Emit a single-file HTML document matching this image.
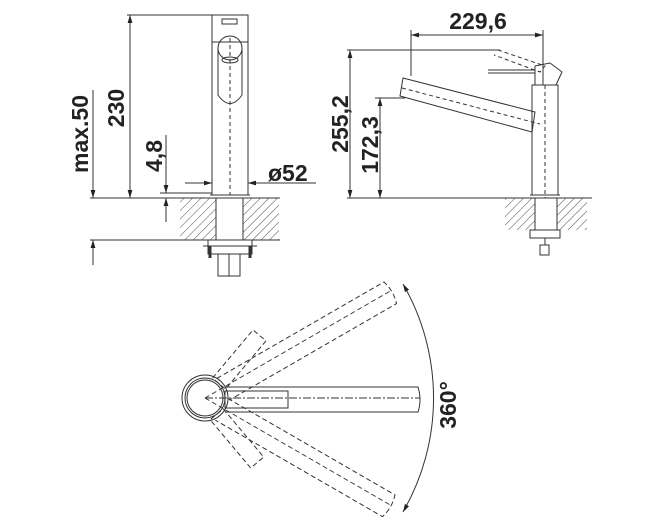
<!DOCTYPE html>
<html><head><meta charset="utf-8"><style>
html,body{margin:0;padding:0;background:#fff;}
svg{display:block}
text{font-family:"Liberation Sans",Arial,sans-serif;font-weight:bold;fill:#222;font-size:23px}
</style></head><body>
<svg width="648" height="530" viewBox="0 0 648 530" xmlns="http://www.w3.org/2000/svg">
<defs>
<pattern id="h" width="6" height="6" patternUnits="userSpaceOnUse" patternTransform="rotate(45)">
<line x1="0" y1="0" x2="0" y2="6" stroke="#555" stroke-width="1"/>
</pattern>
<marker id="a" viewBox="0 0 10 10" refX="10" refY="5" markerWidth="8" markerHeight="8" orient="auto-start-reverse" markerUnits="userSpaceOnUse">
<path d="M0,2 L10,5 L0,8 z" fill="#222"/>
</marker>
</defs>
<g stroke="#333" stroke-width="1" fill="none">
<rect x="180" y="198" width="36" height="42" fill="url(#h)" stroke="none"/>
<rect x="243" y="198" width="36" height="42" fill="url(#h)" stroke="none"/>
<line x1="216" y1="198" x2="216" y2="240"/><line x1="243" y1="198" x2="243" y2="240"/>
<line x1="90" y1="198" x2="280" y2="198"/>
<line x1="90" y1="240" x2="280" y2="240"/>
<line x1="127" y1="15" x2="248" y2="15"/>
<rect x="212" y="15" width="36" height="27"/>
<rect x="222" y="19" width="15" height="5"/>
<line x1="212" y1="42" x2="212" y2="195"/><line x1="248" y1="42" x2="248" y2="195"/>
<line x1="210" y1="195" x2="250" y2="195"/>
<circle cx="230" cy="48" r="12"/>
<path d="M218,48 L218,95 Q230,112 242,95 L242,48"/>
<ellipse cx="230" cy="60" rx="8" ry="3"/>
<line x1="230" y1="38" x2="230" y2="195" stroke-dasharray="4,3"/>
<rect x="208" y="240" width="44" height="14"/>
<line x1="203" y1="246" x2="257" y2="246"/>
<rect x="218" y="254" width="22" height="22"/><line x1="229" y1="254" x2="229" y2="276"/>
<line x1="210" y1="246" x2="210" y2="258" stroke-width="3"/><line x1="250" y1="246" x2="250" y2="258" stroke-width="3"/>
<line x1="130" y1="15" x2="130" y2="198" marker-start="url(#a)" marker-end="url(#a)"/>
<line x1="93" y1="90" x2="93" y2="198" marker-end="url(#a)"/>
<line x1="93" y1="240" x2="93" y2="265" marker-start="url(#a)"/>
<line x1="166" y1="135" x2="166" y2="193" marker-end="url(#a)"/>
<line x1="166" y1="198" x2="166" y2="222" marker-start="url(#a)"/>
<line x1="160" y1="193" x2="212" y2="193"/>
<line x1="185" y1="183" x2="212" y2="183" marker-end="url(#a)"/>
<line x1="248" y1="183" x2="316" y2="183" marker-start="url(#a)"/>
<line x1="212" y1="178" x2="212" y2="190"/><line x1="248" y1="178" x2="248" y2="190"/>
<rect x="505" y="198" width="30" height="32" fill="url(#h)" stroke="none"/>
<rect x="557" y="198" width="30" height="32" fill="url(#h)" stroke="none"/>
<line x1="535" y1="198" x2="535" y2="230"/><line x1="557" y1="198" x2="557" y2="230"/>
<line x1="347" y1="198" x2="592" y2="198"/>
<rect x="532" y="85" width="26" height="110"/>
<line x1="530" y1="195" x2="560" y2="195"/>
<line x1="545" y1="85" x2="545" y2="198" stroke-dasharray="4,3"/>
<path d="M403,78 L535,112 L532,132 L400,96 Z"/>
<line x1="402" y1="88" x2="540" y2="124" stroke-dasharray="4,3"/>
<path d="M535,85 L535,66 L550,63 L562,72 L556,85 Z"/>
<line x1="488" y1="70" x2="535" y2="70"/><line x1="488" y1="73" x2="535" y2="73"/>
<path d="M498,50 L545,66 L540,72 L494,55" stroke-dasharray="4,3"/>
<rect x="530" y="230" width="30" height="8"/>
<line x1="545" y1="238" x2="545" y2="245"/>
<rect x="540" y="245" width="9" height="10"/>
<line x1="411" y1="30" x2="411" y2="76"/><line x1="543" y1="30" x2="543" y2="85"/>
<line x1="411" y1="35" x2="543" y2="35" marker-start="url(#a)" marker-end="url(#a)"/>
<line x1="347" y1="50" x2="500" y2="50"/>
<line x1="350" y1="50" x2="350" y2="198" marker-start="url(#a)" marker-end="url(#a)"/>
<line x1="375" y1="98" x2="405" y2="98"/>
<line x1="380" y1="98" x2="380" y2="198" marker-start="url(#a)" marker-end="url(#a)"/>
<circle cx="205" cy="398" r="23"/>
<circle cx="205" cy="398" r="20"/>
<circle cx="205" cy="398" r="18"/>
<path d="M225,387 L418,387 Q422,400 418,412 L225,412"/>
<rect x="225" y="391" width="63" height="17"/>
<line x1="205" y1="398" x2="420" y2="398" stroke-dasharray="8,2,2,2"/>
<g stroke-dasharray="5,3">
<g transform="rotate(-30 205 398)">
<path d="M225,387 L418,387 Q422,400 418,412 L225,412"/>
<rect x="225" y="391" width="63" height="17" transform="rotate(-20 205 398)"/>
<line x1="205" y1="398" x2="420" y2="398"/>
</g>
<g transform="rotate(30 205 398)">
<path d="M225,387 L418,387 Q422,400 418,412 L225,412"/>
<rect x="225" y="391" width="63" height="17" transform="rotate(20 205 398)"/>
<line x1="205" y1="398" x2="420" y2="398"/>
</g>
</g>
<path d="M403,284 A228,228 0 0 1 403,512" marker-start="url(#a)" marker-end="url(#a)"/>
</g>
<text transform="translate(124,108) rotate(-90)" text-anchor="middle">230</text>
<text transform="translate(88,134) rotate(-90)" text-anchor="middle">max.50</text>
<text transform="translate(162,156) rotate(-90)" text-anchor="middle">4,8</text>
<text x="268" y="181">ø52</text>
<text x="478" y="29" text-anchor="middle">229,6</text>
<text transform="translate(348,124) rotate(-90)" text-anchor="middle">255,2</text>
<text transform="translate(378,145) rotate(-90)" text-anchor="middle">172,3</text>
<text transform="translate(456,405) rotate(-90)" text-anchor="middle">360°</text>
</svg>
</body></html>
